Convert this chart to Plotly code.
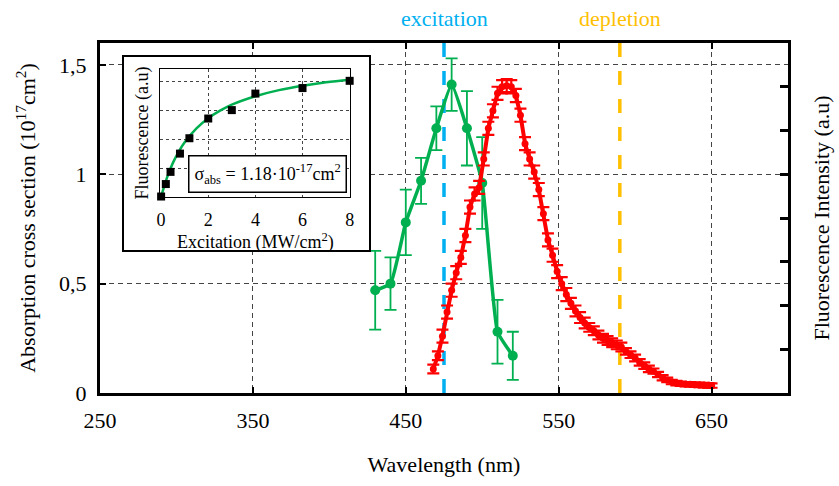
import plotly.graph_objects as go

# ---------------- data ----------------
wavelength_abs = [430, 440, 450, 460, 470, 480, 490, 500, 510, 520]
absorption = [0.47, 0.50, 0.78, 0.97, 1.21, 1.41, 1.21, 0.96, 0.28, 0.17]
absorption_err = [0.18, 0.12, 0.15, 0.105, 0.10, 0.12, 0.17, 0.21, 0.146, 0.11]

wavelength_fl = [468, 471, 474, 477, 480, 483, 486, 489, 492, 495, 498, 501, 504, 507,
                 510, 513, 516, 519, 522, 525, 528, 531, 534, 537, 540, 543, 546, 549,
                 552, 555, 558, 561, 564, 567, 570, 573, 576, 579, 582, 585, 588, 591,
                 594, 597, 600, 603, 606, 609, 612, 615, 618, 621, 624, 627, 630, 633,
                 636, 639, 642, 645, 648, 650]
fluorescence = [0.11, 0.17, 0.26, 0.37, 0.47, 0.55, 0.62, 0.72, 0.85, 0.91, 0.94, 1.07,
                1.21, 1.29, 1.37, 1.40, 1.405, 1.40, 1.36, 1.27, 1.14, 1.07, 1.01, 0.93,
                0.82, 0.70, 0.63, 0.555, 0.50, 0.45, 0.41, 0.375, 0.345, 0.32, 0.30,
                0.285, 0.265, 0.25, 0.24, 0.23, 0.22, 0.21, 0.19, 0.175, 0.16, 0.14,
                0.125, 0.11, 0.10, 0.085, 0.07, 0.06, 0.05, 0.045, 0.042, 0.04, 0.04,
                0.038, 0.037, 0.036, 0.035, 0.034]
fluorescence_err = [0.02, 0.02, 0.03, 0.03, 0.03, 0.03, 0.03, 0.03, 0.03, 0.03, 0.03, 0.03,
                    0.03, 0.03, 0.03, 0.03, 0.03, 0.03, 0.03, 0.03, 0.03, 0.03, 0.03, 0.03,
                    0.03, 0.03, 0.03, 0.03, 0.03, 0.03, 0.025, 0.025, 0.025, 0.025, 0.02,
                    0.02, 0.02, 0.02, 0.02, 0.02, 0.02, 0.02, 0.015, 0.015, 0.015, 0.015,
                    0.015, 0.015, 0.012, 0.012, 0.012, 0.01, 0.01, 0.01, 0.01, 0.01, 0.01,
                    0.01, 0.01, 0.01, 0.01, 0.01]

excitation_nm = 475
depletion_nm = 590

x_tickvals = [250, 350, 450, 550, 650]
y_tickvals = [0, 0.5, 1, 1.5]
y_ticktext = ["0", "0,5", "1", "1,5"]

inset_excitation = [0, 0.2, 0.4, 0.8, 1.2, 2, 3, 4, 6, 8]
inset_fluor = [0.02, 0.45, 0.87, 1.50, 2.03, 2.71, 3.00, 3.57, 3.76, 4.01]
fit_excitation = [0, 0.1, 0.25, 0.5, 0.75, 1, 1.5, 2, 2.5, 3, 4, 5, 6, 7, 8]
fit_fluor = [0, 0.29, 0.67, 1.18, 1.57, 1.89, 2.37, 2.72, 2.98, 3.19, 3.48, 3.69, 3.84, 3.96, 4.05]
inset_tickvals = [0, 2, 4, 6, 8]

GREEN = "#00b050"
RED = "#ff0000"
BLUE = "#00b0f0"
GOLD = "#ffc000"
FONT = "'Liberation Serif', 'Times New Roman', Times, serif"

fig = go.Figure()

# main absorption (green)
fig.add_trace(go.Scatter(
    x=wavelength_abs, y=absorption, mode="lines+markers",
    line=dict(color=GREEN, width=3.5, shape="spline", smoothing=0.4),
    marker=dict(color=GREEN, size=10),
    error_y=dict(type="data", array=absorption_err, color=GREEN, thickness=1.8, width=6),
    xaxis="x", yaxis="y", showlegend=False))

# fluorescence (red) on right axis
fig.add_trace(go.Scatter(
    x=wavelength_fl, y=fluorescence, mode="lines+markers",
    line=dict(color=RED, width=4),
    marker=dict(color=RED, size=7),
    error_y=dict(type="data", array=fluorescence_err, color=RED, thickness=2.2, width=6),
    xaxis="x", yaxis="y2", showlegend=False))

# dummy subplot providing the inset's white outer frame
fig.add_trace(go.Scatter(x=[], y=[], xaxis="x3", yaxis="y3", showlegend=False))

# inset
fig.add_trace(go.Scatter(
    x=fit_excitation, y=fit_fluor, mode="lines",
    line=dict(color=GREEN, width=2.5, shape="spline"),
    xaxis="x4", yaxis="y4", showlegend=False, cliponaxis=False))
fig.add_trace(go.Scatter(
    x=inset_excitation, y=inset_fluor, mode="markers",
    marker=dict(color="black", size=8, symbol="square"),
    xaxis="x4", yaxis="y4", showlegend=False, cliponaxis=False))

# vertical laser lines
for xv, col in [(excitation_nm, BLUE), (depletion_nm, GOLD)]:
    fig.add_shape(type="line", xref="x", yref="paper", x0=xv, x1=xv, y0=0, y1=1,
                  line=dict(color=col, width=3.5, dash="14px,14px"), layer="below")

fig.add_annotation(x=excitation_nm, y=1.07, xref="x", yref="paper", text="excitation",
                   showarrow=False, yanchor="middle", xanchor="center",
                   font=dict(family=FONT, size=22, color=BLUE))
fig.add_annotation(x=depletion_nm, y=1.07, xref="x", yref="paper", text="depletion",
                   showarrow=False, yanchor="middle", xanchor="center",
                   font=dict(family=FONT, size=22, color=GOLD))

fig.add_annotation(x=0.565, y=0.18, xref="x4 domain", yref="y4 domain",
                   xanchor="center", yanchor="middle",
                   text="σ<sub>abs</sub> = 1.18·10<sup>-17</sup>cm<sup>2</sup>",
                   showarrow=False, font=dict(family=FONT, size=18, color="black"),
                   bgcolor="white", bordercolor="black", borderwidth=1.5, borderpad=5)

main_axis = dict(showline=True, linecolor="black", linewidth=3, mirror=True,
                 zeroline=False, ticks="inside", tickcolor="black", tickwidth=2, ticklen=6,
                 showgrid=True, gridcolor="#444444", gridwidth=1.2, griddash="5px,4px",
                 tickfont=dict(family=FONT, size=22, color="black"))

fig.update_layout(
    width=839, height=486,
    margin=dict(l=100, r=51, t=43, b=88),
    paper_bgcolor="white", plot_bgcolor="white",
    font=dict(family=FONT, color="black"),
    xaxis=dict(main_axis, range=[250, 700], tickvals=x_tickvals, mirror="ticks",
               title=dict(text="Wavelength (nm)", font=dict(family=FONT, size=22), standoff=25),
               ticklabelstandoff=6),
    yaxis=dict(main_axis, range=[0, 1.6], tickvals=y_tickvals, ticktext=y_ticktext,
               title=dict(text="Absorption cross section (10<sup>17</sup>cm<sup>2</sup>)",
                          font=dict(family=FONT, size=22), standoff=18),
               ticklabelstandoff=6),
    yaxis2=dict(overlaying="y", side="right", range=[0, 1.6], dtick=0.2, tick0=0,
                ticks="inside", ticklen=8, tickwidth=3, tickcolor="black",
                showticklabels=False, showgrid=False, zeroline=False,
                showline=True, linecolor="black", linewidth=3,
                title=dict(text="Fluorescence Intensity (a.u)",
                           font=dict(family=FONT, size=22), standoff=24)),
    xaxis3=dict(domain=[0.0349, 0.3916], anchor="y3", range=[0, 1], showgrid=False,
                zeroline=False, showticklabels=False, ticks="", showline=True,
                linecolor="black", linewidth=1.5, mirror=True),
    yaxis3=dict(domain=[0.4085, 0.9606], anchor="x3", range=[0, 1], showgrid=False,
                zeroline=False, showticklabels=False, ticks="", showline=True,
                linecolor="black", linewidth=1.5, mirror=True),
    xaxis4=dict(domain=[0.0878, 0.3639], anchor="y4", range=[-0.03, 8.03],
                tickvals=inset_tickvals, showgrid=True, gridcolor="#444444", gridwidth=0.8,
                griddash="3px,3px", zeroline=False, ticks="", showline=True,
                linecolor="black", linewidth=1, mirror=True,
                tickfont=dict(family=FONT, size=18, color="black"), ticklabelstandoff=6,
                title=dict(text="Excitation (MW/cm<sup>2</sup>)", font=dict(family=FONT, size=18),
                           standoff=2)),
    yaxis4=dict(domain=[0.5597, 0.9259], anchor="x4", range=[0, 4.42],
                tickvals=[1, 2, 3, 4], showticklabels=False, showgrid=True,
                gridcolor="#444444", gridwidth=0.8, griddash="3px,3px", zeroline=False,
                ticks="", showline=True, linecolor="black", linewidth=1, mirror=True,
                title=dict(text="Fluorescence (a.u)", font=dict(family=FONT, size=18),
                           standoff=6)),
)

fig.write_html("out.html", config={"displayModeBar": False},
               post_script="document.body.style.margin='0';document.body.style.padding='0';")
